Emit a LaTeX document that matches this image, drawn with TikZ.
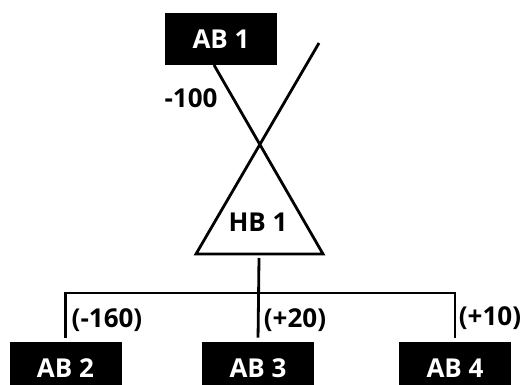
\documentclass[tikz,border=0pt]{standalone}
\usepackage{fontspec}
\setmainfont{Open Sans}

\tikzset{
  abbox/.style={fill=black, text=white, minimum width=112pt, minimum height=52pt, inner sep=0pt},
  cost/.style={inner sep=0pt}
}

\begin{document}
\begin{tikzpicture}[x=1pt, y=-1pt, line width=2.8pt, font=\bfseries\fontsize{26}{30}\selectfont]
	\useasboundingbox (0,0) rectangle (525,385);

	% top box and hub
	\node[abbox] (ab1) at (221,39) {AB 1};
	\node (hb1) at (258,222) {HB 1};

	% triangle corners and cross ends
	\coordinate (leftbase) at (196,254);
	\coordinate (rightbase) at (323,254);
	\coordinate (crossin) at (214,65);
	\coordinate (crossout) at (319,43);
	\coordinate (stem) at (259,258);
	\coordinate (bus) at (259,293);

	% crossing lines make the triangle sides
	\draw (crossin) -- (rightbase) -- (leftbase) -- (crossout);

	% bottom boxes
	\node[abbox] (ab2) at (65.5,368) {AB 2};
	\node[abbox] (ab3) at (258,368) {AB 3};
	\node[abbox] (ab4) at (455,368) {AB 4};

	% tree below the hub
	\draw[shorten >=3pt] (stem) -- (ab3.north);
	\draw[shorten <=3pt, shorten >=3pt] (ab2.north) |- (bus) -| (ab4.north);

	% cost labels
	\node[cost] (c1) at (191,98) {-100};
	\node[cost] (c2) at (107,320) {(-160)};
	\node[cost] (c3) at (295,320) {(+20)};
	\node[cost] (c4) at (490,318) {(+10)};
\end{tikzpicture}
\end{document}
